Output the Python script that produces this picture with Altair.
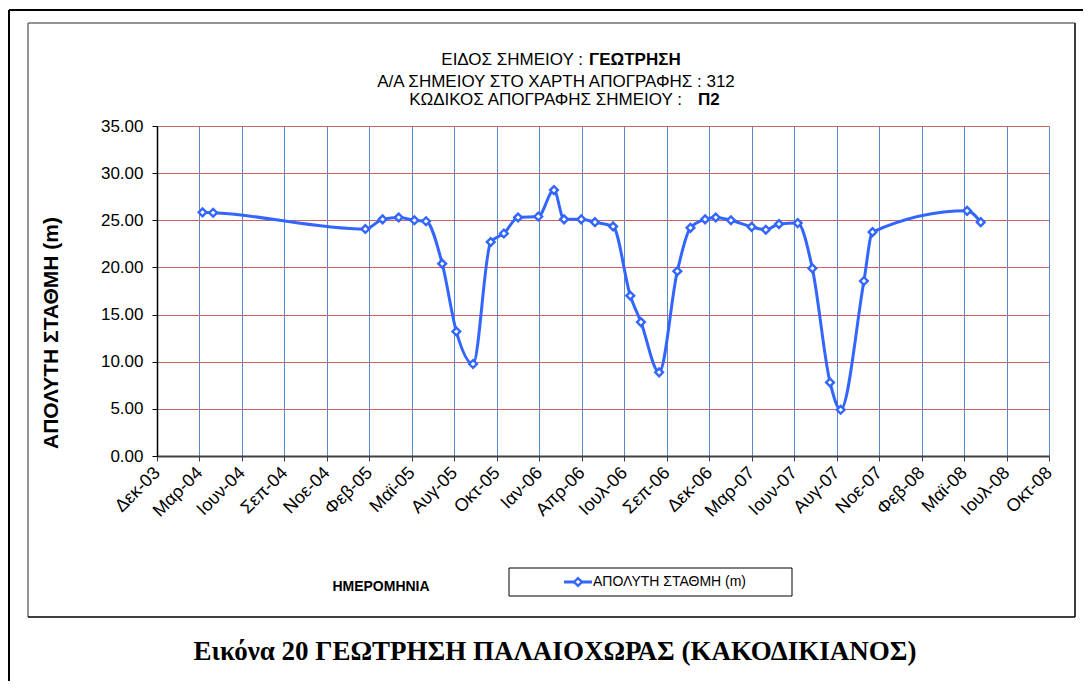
import json
import altair as alt
import pandas as pd

# ---- data ----
DATES = ["2004-03-24", "2004-04-14", "2005-02-09", "2005-03-15", "2005-04-16", "2005-05-17",
         "2005-06-09", "2005-07-11", "2005-08-08", "2005-09-10", "2005-10-15", "2005-11-10",
         "2005-12-08", "2006-01-17", "2006-02-17", "2006-03-09", "2006-04-12", "2006-05-09",
         "2006-06-14", "2006-07-18", "2006-08-08", "2006-09-13", "2006-10-19", "2006-11-14",
         "2006-12-13", "2007-01-03", "2007-02-02", "2007-03-15", "2007-04-12", "2007-05-08",
         "2007-06-14", "2007-07-13", "2007-08-17", "2007-09-07", "2007-10-23", "2007-11-09",
         "2008-05-14", "2008-06-10"]
VALUES = [25.84, 25.80, 24.07, 25.10, 25.30, 25.00, 24.90, 20.40, 13.20, 9.76, 22.70, 23.60,
          25.30, 25.40, 28.20, 25.10, 25.10, 24.80, 24.35, 17.00, 14.20, 8.87, 19.60, 24.20,
          25.10, 25.30, 25.00, 24.30, 24.00, 24.60, 24.70, 19.90, 7.80, 4.90, 18.56, 23.75,
          26.00, 24.80]

TICK_DATES = ["2003-12-25", "2004-03-18", "2004-06-10", "2004-09-02", "2004-11-25", "2005-02-17",
              "2005-05-12", "2005-08-04", "2005-10-27", "2006-01-19", "2006-04-13", "2006-07-06",
              "2006-09-28", "2006-12-21", "2007-03-15", "2007-06-07", "2007-08-30", "2007-11-22",
              "2008-02-14", "2008-05-08", "2008-07-31", "2008-10-23"]
TICK_LABELS = ["Δεκ-03", "Μαρ-04", "Ιουν-04", "Σεπ-04", "Νοε-04", "Φεβ-05", "Μαϊ-05", "Αυγ-05",
               "Οκτ-05", "Ιαν-06", "Απρ-06", "Ιουλ-06", "Σεπ-06", "Δεκ-06", "Μαρ-07", "Ιουν-07",
               "Αυγ-07", "Νοε-07", "Φεβ-08", "Μαϊ-08", "Ιουλ-08", "Οκτ-08"]
Y_TICKS = [0, 5, 10, 15, 20, 25, 30, 35]

SERIES = "ΑΠΟΛΥΤΗ ΣΤΑΘΜΗ (m)"
Y_TITLE = "ΑΠΟΛΥΤΗ ΣΤΑΘΜΗ (m)"
X_TITLE = "ΗΜΕΡΟΜΗΝΙΑ"
T1A, T1B = "ΕΙΔΟΣ ΣΗΜΕΙΟΥ :", "ΓΕΩΤΡΗΣΗ"
T2 = "Α/Α ΣΗΜΕΙΟΥ ΣΤΟ ΧΑΡΤΗ ΑΠΟΓΡΑΦΗΣ : 312"
T3A, T3B = "ΚΩΔΙΚΟΣ ΑΠΟΓΡΑΦΗΣ ΣΗΜΕΙΟΥ :", "Π2"
CAPTION = "Εικόνα 20 ΓΕΩΤΡΗΣΗ ΠΑΛΑΙΟΧΩΡΑΣ (ΚΑΚΟΔΙΚΙΑΝΟΣ)"

BLUE = "#3366FF"
SANS = "Liberation Sans"


def dt(s):
    y, m, d = (int(p) for p in s.split("-"))
    return alt.DateTime(year=y, month=m, date=d, utc=True)


df = pd.DataFrame({"date": DATES, "value": VALUES})

label_expr = (f"{json.dumps(TICK_LABELS, ensure_ascii=False)}"
              f"[indexof({json.dumps(TICK_DATES)}, utcFormat(datum.value, '%Y-%m-%d'))]")

x_enc = alt.X("date:T",
              scale=alt.Scale(type="utc", domain=[dt(TICK_DATES[0]), dt(TICK_DATES[-1])]),
              axis=alt.Axis(values=[dt(s) for s in TICK_DATES], labelExpr=label_expr,
                            title=None, labelAngle=315, labelAlign="right", labelBaseline="middle",
                            labelFont=SANS, labelFontSize=18, labelColor="black",
                            labelPadding=9, tickSize=5, tickColor="#404040",
                            domainColor="#404040", domainWidth=2,
                            grid=True, gridColor="#5A87C5", gridWidth=1, labelOverlap=False,
                            labelFlush=False))
y_enc = alt.Y("value:Q",
              scale=alt.Scale(domain=[0, 35], nice=False, zero=True),
              axis=alt.Axis(values=Y_TICKS, format=".2f", title=None,
                            labelFont=SANS, labelFontSize=17, labelColor="black",
                            labelPadding=9, tickSize=5, tickColor="black",
                            domainColor="black", domainWidth=1.5,
                            grid=True, gridColor="#C86464", gridWidth=1.2))

base = alt.Chart(df)
line = base.mark_line(color=BLUE, strokeWidth=3, interpolate="monotone").encode(x=x_enc, y=y_enc)
pts = base.mark_point(shape="diamond", filled=True, fill="white", stroke=BLUE, strokeWidth=2.4,
                      size=60, opacity=1).encode(x="date:T", y="value:Q")

one = pd.DataFrame({"k": [0]})
deco = alt.Chart(one)


def rule(x, y, x2, y2, color, w):
    return deco.mark_rule(color=color, strokeWidth=w).encode(
        x=alt.value(x), y=alt.value(y), x2=alt.value(x2), y2=alt.value(y2))


def text(t, x, y, size, align="center", bold=False, font=SANS, angle=0, baseline="alphabetic"):
    kw = dict(text=t, align=align, baseline=baseline, fontSize=size, font=font,
              fontWeight="bold" if bold else "normal", color="black")
    if angle:
        kw["angle"] = angle
    return deco.mark_text(**kw).encode(x=alt.value(x), y=alt.value(y))


layers = [
    # outer frame
    rule(-148, -116, 926, -116, "black", 2),
    rule(-148, -116, -148, 560, "black", 2),
    # inner chart frame
    rule(-129, -103, 918, -103, "#707070", 1.5),
    rule(-129, -103, -129, 491, "#707070", 1.5),
    rule(918, -103, 918, 491, "black", 1.5),
    rule(-129, 491, 918, 491, "black", 1.5),
    line, pts,
    # titles
    text(T1A, 426, -61, 17, align="right"),
    text(T1B, 432, -61, 17, align="left", bold=True),
    text(T2, 399, -39.5, 17),
    text(T3A, 525, -21, 17, align="right"),
    text(T3B, 541, -21, 17, align="left", bold=True),
    # axis titles
    text(Y_TITLE, -105, 207, 21, bold=True, angle=270, baseline="middle"),
    text(X_TITLE, 224, 461, 14, bold=True, baseline="middle"),
    # legend
    deco.mark_rect(fill="white", stroke="black", strokeWidth=1).encode(
        x=alt.value(352), y=alt.value(442), x2=alt.value(635), y2=alt.value(470)),
    rule(407, 456, 435, 456, BLUE, 3),
    deco.mark_point(shape="diamond", filled=True, fill="white", stroke=BLUE, strokeWidth=2.4,
                    size=60, opacity=1).encode(x=alt.value(421), y=alt.value(456)),
    text(SERIES, 436, 456, 14, align="left", baseline="middle"),
    # caption
    text(CAPTION, 398, 534, 27, bold=True, font="Liberation Serif"),
]

chart = alt.layer(*layers).properties(
    width=892, height=330,
    padding={"left": 149, "top": 118, "right": 34, "bottom": 225},
    autosize="none",
).configure_view(strokeWidth=0)

chart.save("out.html", embed_options={"renderer": "svg", "actions": False})
